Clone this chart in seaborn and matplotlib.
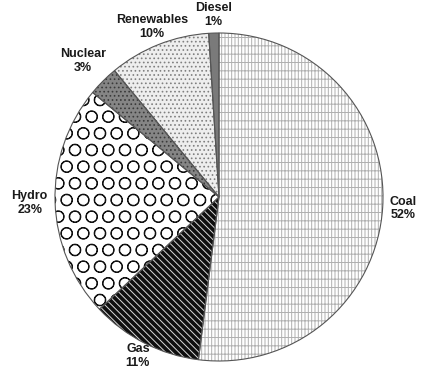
import matplotlib
matplotlib.use("Agg")
import matplotlib.pyplot as plt
import numpy as np
import seaborn as sns

sns.set_theme(style="white")
plt.rcParams['font.family'] = ['Liberation Sans', 'DejaVu Sans']
plt.rcParams['hatch.linewidth'] = 0.7

categories = ["Coal", "Gas", "Hydro", "Nuclear", "Renewables", "Diesel"]
shares = [52, 11, 23, 3, 10, 1]
pct_labels = ["52%", "11%", "23%", "3%", "10%", "1%"]
label_dist = [1.124, 1.09, 1.155, 1.17, 1.113, 1.11]

face_colors = ["#ffffff", "#0f0f0f", "#ffffff", "#858585", "#eeeeee", "#7a7a7a"]
hatch_colors = ["#b0b0b0", "#d8d8d8", "#111111", "#3a3a3a", "#808080", "#444444"]
hatches = ["|||||--", "\\\\\\\\\\", "O", "....", "....", ""]

fig = plt.figure(figsize=(4.23, 3.76), dpi=100)
ax = fig.add_axes([0, 0, 1, 1])

wedges, _ = ax.pie(shares, startangle=90, counterclock=False, colors=face_colors)
for w, h, hc in zip(wedges, hatches, hatch_colors):
    w.set_hatch(h)
    w.set_edgecolor(hc)
    w.set_linewidth(0)

# outlines
ax.pie(shares, startangle=90, counterclock=False,
       colors=['none'] * len(shares),
       wedgeprops=dict(edgecolor='#555555', linewidth=0.8, fill=False))

for w, c, p, d in zip(wedges, categories, pct_labels, label_dist):
    ang = np.deg2rad((w.theta1 + w.theta2) / 2)
    ax.text(d * np.cos(ang), d * np.sin(ang), f"{c}\n{p}", ha='center', va='center',
            fontsize=9, fontweight='bold', color='#1a1a1a', linespacing=1.2)

px = 164.0
cx, cy = 219.0, 376 - 197.0
ax.set_aspect('auto')
ax.set_xlim(-cx / px, (423 - cx) / px)
ax.set_ylim(-cy / px, (376 - cy) / px)
ax.axis('off')

fig.savefig("out.png", dpi=100)
